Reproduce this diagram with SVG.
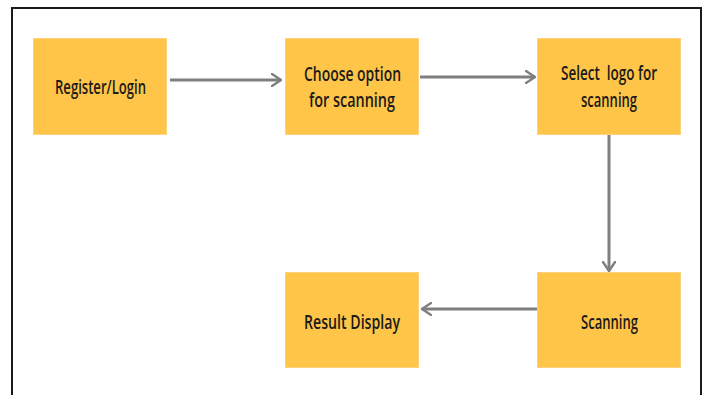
<svg xmlns="http://www.w3.org/2000/svg" width="706" height="395" viewBox="0 0 706 395">
  <defs>
    <style>
      .box { fill: #FFC548; stroke: #FFD27A; stroke-width: 1; }
      .lbl { font-family: "Open Sans", "Liberation Sans", sans-serif; font-size: 19px; font-weight: 600; fill: #1a1a1a; text-anchor: middle; white-space: pre; }
      .edge { stroke: #7f7f7f; stroke-width: 3; fill: none; marker-end: url(#chev); }
      .frame { fill: none; stroke: #1a1a1a; stroke-width: 2; }
    </style>
    <marker id="chev" viewBox="0 0 12 14" refX="10" refY="7" markerWidth="12" markerHeight="14" markerUnits="userSpaceOnUse" orient="auto">
      <path d="M1,1 L10,7 L1,13" fill="none" stroke="#7f7f7f" stroke-width="2.4" stroke-linecap="round" stroke-linejoin="round"/>
    </marker>
  </defs>
  <rect width="706" height="395" fill="#ffffff"/>
  <!-- page outline, open at the bottom -->
  <path class="frame" d="M12,400 L12,8 L701,8 L701,400"/>

  <g id="connectors">
    <line class="edge" x1="170" y1="80" x2="281" y2="80"/>
    <line class="edge" x1="420" y1="77" x2="535" y2="77"/>
    <line class="edge" x1="609" y1="134" x2="609" y2="271"/>
    <line class="edge" x1="537" y1="309" x2="422" y2="309"/>
  </g>

  <g id="register-login">
    <rect class="box" x="33.5" y="38.5" width="133" height="96"/>
    <text class="lbl" x="100.5" y="94" textLength="91" lengthAdjust="spacingAndGlyphs">Register/Login</text>
  </g>
  <g id="choose-option">
    <rect class="box" x="285.5" y="38.5" width="133" height="96"/>
    <text class="lbl" x="352.5" y="81" textLength="97" lengthAdjust="spacingAndGlyphs">Choose option</text>
    <text class="lbl" x="352" y="107" textLength="86" lengthAdjust="spacingAndGlyphs">for scanning</text>
  </g>
  <g id="select-logo">
    <rect class="box" x="537.5" y="38.5" width="143" height="96"/>
    <text class="lbl" x="609" y="80" textLength="96" lengthAdjust="spacingAndGlyphs" xml:space="preserve">Select  logo for</text>
    <text class="lbl" x="609" y="107" textLength="56" lengthAdjust="spacingAndGlyphs">scanning</text>
  </g>
  <g id="scanning">
    <rect class="box" x="537.5" y="272.5" width="143" height="95"/>
    <text class="lbl" x="609.5" y="329" textLength="57" lengthAdjust="spacingAndGlyphs">Scanning</text>
  </g>
  <g id="result-display">
    <rect class="box" x="285.5" y="272.5" width="133" height="95"/>
    <text class="lbl" x="352" y="329" textLength="96" lengthAdjust="spacingAndGlyphs">Result Display</text>
  </g>
</svg>
